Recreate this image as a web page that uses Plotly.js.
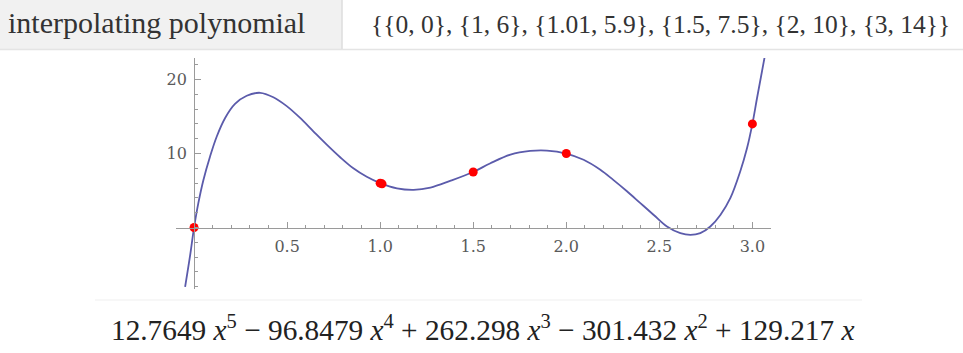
<!DOCTYPE html>
<html>
<head>
<meta charset="utf-8">
<script src="https://cdn.plot.ly/plotly-3.0.1.min.js"></script>
<style>html,body{margin:0;padding:0;background:#fff;}#chart{width:963px;height:353px;}</style>
</head>
<body>
<div id="chart"></div>
<script>
// Curve points
const curveX = [-0.048, -0.022, 0, 0.023, 0.050, 0.086, 0.122, 0.167, 0.220, 0.283, 0.355, 0.426, 0.498, 0.570, 0.641, 0.713, 0.785, 0.856, 0.928, 1.0, 1.09, 1.18, 1.27, 1.376, 1.5, 1.59, 1.70, 1.806, 1.896, 2.0, 2.093, 2.183, 2.254, 2.326, 2.398, 2.47, 2.541, 2.613, 2.667, 2.72, 2.774, 2.828, 2.882, 2.935, 2.971, 3.0, 3.025, 3.07];
const curveY = [-8.0, -3.9, 0, 3.3, 6.4, 9.6, 12.3, 14.8, 16.7, 17.8, 18.2, 17.6, 16.4, 14.8, 13.0, 11.2, 9.5, 8.0, 6.85, 6.0, 5.3, 5.1, 5.4, 6.3, 7.5, 8.65, 9.85, 10.35, 10.4, 10.0, 9.15, 7.8, 6.4, 4.9, 3.3, 1.7, 0.14, -0.76, -1.0, -0.76, 0.14, 1.7, 4.0, 7.6, 10.7, 14.0, 17.5, 23.6];
// Interpolated data points
const pointX = [0, 1, 1.01, 1.5, 2, 3];
const pointY = [0, 6, 5.9, 7.5, 10, 14];
// Tick labels
const xTickVals = [0.5, 1.0, 1.5, 2.0, 2.5, 3.0];
const xTickText = ["0.5", "1.0", "1.5", "2.0", "2.5", "3.0"];
const yTickVals = [10, 20];
const yTickText = ["10", "20"];
// Texts
const headerLabel = "interpolating polynomial";
const headerInput = "{{0, 0}, {1, 6}, {1.01, 5.9}, {1.5, 7.5}, {2, 10}, {3, 14}}";
const resultText = "12.7649 <i>x</i><sup>5</sup> − 96.8479 <i>x</i><sup>4</sup> + 262.298 <i>x</i><sup>3</sup> − 301.432 <i>x</i><sup>2</sup> + 129.217 <i>x</i>";

const W = 963, H = 353;
const M = {l: 176, r: 192, t: 58, b: 64};
const xRange = [-0.097, 3.10];
const yRange = [-8.3, 22.9];
const pw = W - M.l - M.r, ph = H - M.t - M.b;
const px = p => (p - M.l) / pw;
const py = p => (H - M.b - p) / ph;

const axisColor = '#9a9a9a';
const tickFont = {family: 'DejaVu Serif', size: 16, color: '#5a5a5a'};

const traces = [
  {x: curveX, y: curveY, type: 'scatter', mode: 'lines', line: {color: '#5b5bab', width: 1.8, shape: 'spline', smoothing: 1}, hoverinfo: 'skip'},
  {x: pointX, y: pointY, type: 'scatter', mode: 'markers', marker: {color: '#ff0000', size: 9}, cliponaxis: false}
];

const layout = {
  width: W, height: H,
  margin: M,
  paper_bgcolor: '#fff', plot_bgcolor: 'rgba(0,0,0,0)',
  showlegend: false,
  xaxis: {
    range: xRange, anchor: 'free',
    position: (0 - yRange[0]) / (yRange[1] - yRange[0]),
    showgrid: false, zeroline: false, showline: true, linecolor: axisColor, linewidth: 1.2,
    tickmode: 'array', tickvals: xTickVals, ticktext: xTickText,
    ticks: 'inside', ticklen: 6, tickcolor: axisColor, tickwidth: 1,
    minor: {dtick: 0.1, tick0: 0, ticks: 'inside', ticklen: 3, tickcolor: axisColor, showgrid: false},
    tickfont: tickFont, ticklabelstandoff: 4
  },
  yaxis: {
    range: yRange, anchor: 'free',
    position: (0 - xRange[0]) / (xRange[1] - xRange[0]),
    showgrid: false, zeroline: false, showline: true, linecolor: axisColor, linewidth: 1.2,
    tickmode: 'array', tickvals: yTickVals, ticktext: yTickText,
    ticks: 'inside', ticklen: 6, tickcolor: axisColor, tickwidth: 1,
    minor: {dtick: 2, tick0: 0, ticks: 'inside', ticklen: 3, tickcolor: axisColor, showgrid: false},
    tickfont: tickFont, ticklabelstandoff: 4
  },
  shapes: [
    {type: 'rect', xref: 'paper', yref: 'paper', x0: px(0), x1: px(342), y0: py(0), y1: py(49), fillcolor: '#f1f1f1', line: {width: 0}, layer: 'below'},
    {type: 'line', xref: 'paper', yref: 'paper', x0: px(342), x1: px(342), y0: py(0), y1: py(49), line: {color: '#dddddd', width: 1.5}},
    {type: 'line', xref: 'paper', yref: 'paper', x0: px(0), x1: px(963), y0: py(49.5), y1: py(49.5), line: {color: '#e4e4e4', width: 1.5}},
    {type: 'line', xref: 'paper', yref: 'paper', x0: px(95), x1: px(862), y0: py(300), y1: py(300), line: {color: '#efefef', width: 1}}
  ],
  annotations: [
    {text: headerLabel, xref: 'paper', yref: 'paper', x: px(6), y: py(23), xanchor: 'left', yanchor: 'middle', showarrow: false, font: {family: 'Liberation Serif', size: 30, color: '#333'}},
    {text: headerInput, xref: 'paper', yref: 'paper', x: px(369), y: py(24), xanchor: 'left', yanchor: 'middle', showarrow: false, font: {family: 'Liberation Serif', size: 25.5, color: '#333'}},
    {text: resultText, xref: 'paper', yref: 'paper', x: px(483), y: py(328), xanchor: 'center', yanchor: 'middle', showarrow: false, font: {family: 'Liberation Serif', size: 29.3, color: '#222'}}
  ]
};

Plotly.newPlot('chart', traces, layout, {displayModeBar: false, staticPlot: true});
</script>
</body>
</html>
